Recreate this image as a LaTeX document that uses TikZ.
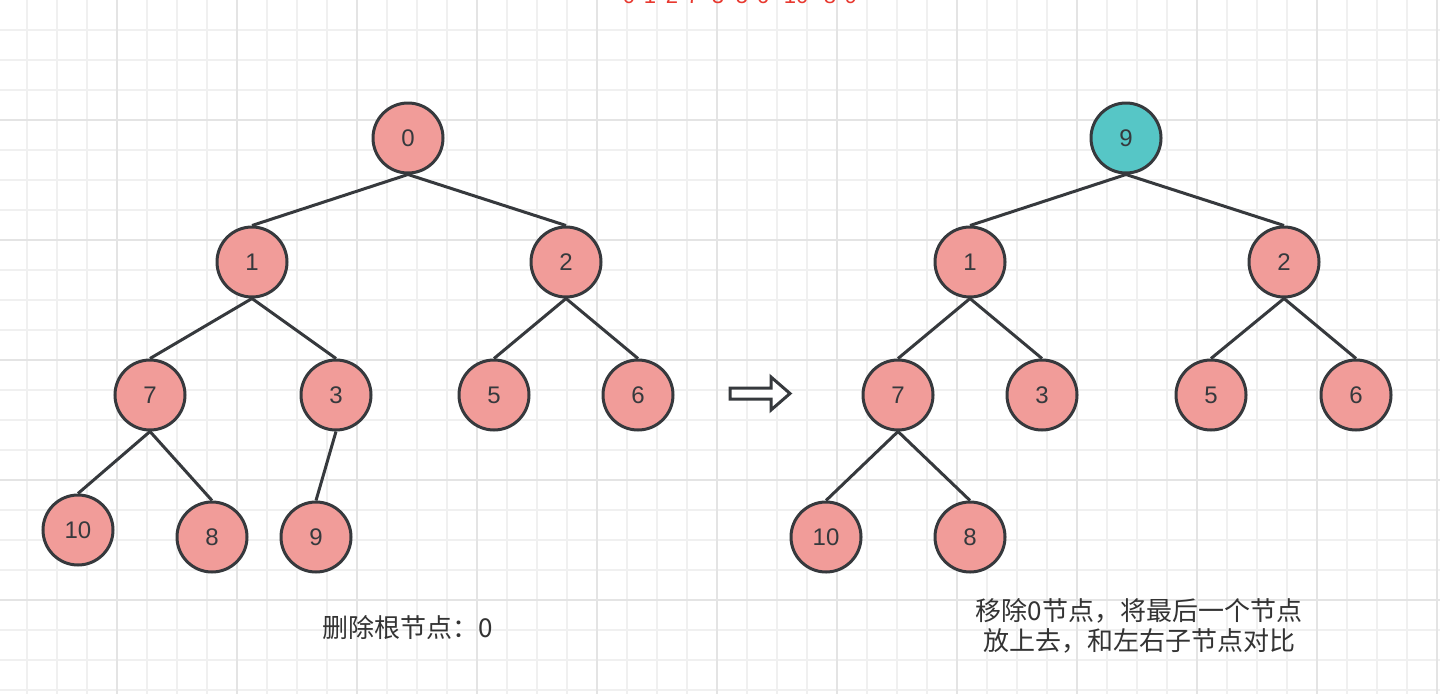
\documentclass[tikz,border=0pt]{standalone}
\usepackage{fontspec}
\setmainfont{Liberation Sans}
\newfontfamily\cjk{Noto Sans CJK SC}
\definecolor{nodefill}{HTML}{F19C99}
\definecolor{nodeline}{HTML}{36393D}
\definecolor{hlfill}{HTML}{56C6C6}
\definecolor{gridminor}{HTML}{F0F0F0}
\definecolor{gridmajor}{HTML}{E4E4E4}
\definecolor{toptext}{HTML}{E8382F}
\definecolor{labeltext}{HTML}{333333}
\begin{document}
\begin{tikzpicture}[x=1pt,y=-1pt,
  hn/.style={circle, draw=nodeline, line width=3pt, fill=nodefill, minimum size=70pt, inner sep=0pt, font=\fontsize{24}{24}\selectfont, text=nodeline},
  hl/.style={hn, fill=hlfill},
  edge/.style={draw=nodeline, line width=3pt},
  lbl/.style={font=\cjk\fontsize{26}{30}\selectfont, text=labeltext, align=center},
  topdigit/.style={font=\fontsize{22}{22}\selectfont, text=toptext, anchor=base, inner sep=0pt}]
\useasboundingbox (0,0) rectangle (1440,694);
\fill[white] (0,0) rectangle (1440,694);
% grid
\foreach \x in {27,57,...,1437} \draw[gridminor, line width=1.2pt] (\x,0) -- (\x,694);
\foreach \y in {30,60,...,690} \draw[gridminor, line width=1.2pt] (0,\y) -- (1440,\y);
\foreach \x in {117,237,...,1437} \draw[gridmajor, line width=1.2pt] (\x,0) -- (\x,694);
\foreach \y in {120,240,...,600} \draw[gridmajor, line width=1.2pt] (0,\y) -- (1440,\y);
% top red text (cut off at the top edge, as in the reference)
\foreach \d/\px [count=\i] in {0/629,1/650,2/672,7/693,3/718,5/742,6/763,10/796,8/830,9/851}
  \node[topdigit, name=t\i] at (\px,3) {\d};
% left tree
\node[hn] (a0) at (408,138) {0};
\node[hn] (a1) at (252,262) {1};
\node[hn] (a2) at (566,262) {2};
\node[hn] (a7) at (150,395) {7};
\node[hn] (a3) at (336,395) {3};
\node[hn] (a5) at (494,395) {5};
\node[hn] (a6) at (638,395) {6};
\node[hn] (a10) at (78,530) {10};
\node[hn] (a8) at (212,537) {8};
\node[hn] (a9) at (316,537) {9};
\draw[edge] (a0.south) -- (a1.north);
\draw[edge] (a0.south) -- (a2.north);
\draw[edge] (a1.south) -- (a7.north);
\draw[edge] (a1.south) -- (a3.north);
\draw[edge] (a2.south) -- (a5.north);
\draw[edge] (a2.south) -- (a6.north);
\draw[edge] (a7.south) -- (a10.north);
\draw[edge] (a7.south) -- (a8.north);
\draw[edge] (a3.south) -- (a9.north);
% right tree
\node[hl] (b9) at (1126,138) {9};
\node[hn] (b1) at (970,262) {1};
\node[hn] (b2) at (1284,262) {2};
\node[hn] (b7) at (898,395) {7};
\node[hn] (b3) at (1042,395) {3};
\node[hn] (b5) at (1211,395) {5};
\node[hn] (b6) at (1356,395) {6};
\node[hn] (b10) at (826,537) {10};
\node[hn] (b8) at (970,537) {8};
\draw[edge] (b9.south) -- (b1.north);
\draw[edge] (b9.south) -- (b2.north);
\draw[edge] (b1.south) -- (b7.north);
\draw[edge] (b1.south) -- (b3.north);
\draw[edge] (b2.south) -- (b5.north);
\draw[edge] (b2.south) -- (b6.north);
\draw[edge] (b7.south) -- (b10.north);
\draw[edge] (b7.south) -- (b8.north);
% hollow arrow
\draw[nodeline, line width=3pt, line join=miter, fill=white] (730,388) -- (771,388) -- (771,377) -- (790,393.5) -- (771,410) -- (771,399) -- (730,399) -- cycle;
% labels
\node[lbl] (l1) at (408,628) {删除根节点：0};
\node[lbl] (l2) at (1139,626) {移除0节点，将最后一个节点\\放上去，和左右子节点对比};
\end{tikzpicture}
\end{document}
